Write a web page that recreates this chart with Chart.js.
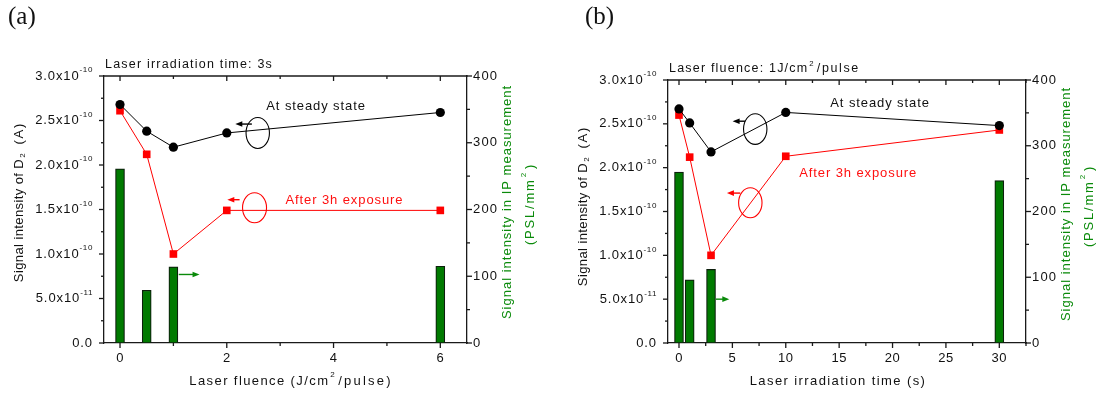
<!DOCTYPE html>
<html><head><meta charset="utf-8">
<script src="https://cdn.jsdelivr.net/npm/chart.js@4.4.1/dist/chart.umd.min.js"></script>
<style>
html,body{margin:0;padding:0;background:#fff;}
#wrap{position:relative;width:1104px;height:395px;overflow:hidden;background:#fff;}
canvas{position:absolute;top:0;}
</style></head><body>
<div id="wrap">
<canvas id="ca" width="552" height="395" style="left:0"></canvas>
<canvas id="cb" width="552" height="395" style="left:552px"></canvas>
</div>
<script>
// ---------------- data ----------------
// Panel (a): vs laser fluence (J/cm2/pulse), irradiation time 3 s
const fluence = [0, 0.5, 1, 2, 6];
const fluenceSteady = [2.68e-10, 2.38e-10, 2.20e-10, 2.36e-10, 2.59e-10];
const fluenceExposed = [2.61e-10, 2.12e-10, 1.00e-10, 1.49e-10, 1.49e-10];
const fluenceIPx = [0, 0.5, 1, 6];
const fluenceIP = [261, 79, 114, 115];
const fluenceTicks = [0, 2, 4, 6];

// Panel (b): vs laser irradiation time (s), fluence 1 J/cm2/pulse
const irrTime = [0, 1, 3, 10, 30];
const timeSteady = [2.67e-10, 2.51e-10, 2.18e-10, 2.63e-10, 2.48e-10];
const timeExposed = [2.60e-10, 2.12e-10, 1.00e-10, 2.13e-10, 2.43e-10];
const timeIPx = [0, 1, 3, 30];
const timeIP = [260, 96, 112, 247];
const timeTicks = [0, 5, 10, 15, 20, 25, 30];

// shared axes
const currentTicks = [0, 5e-11, 1e-10, 1.5e-10, 2e-10, 2.5e-10, 3e-10];
const pslTicks = [0, 100, 200, 300, 400];

// ---------------- helpers ----------------
const FONT = '"Liberation Sans", Arial, Helvetica, sans-serif';
const zip = (xs, ys) => xs.map((x, i) => ({x, y: ys[i]}));
const isMult = (v, s) => Math.abs(v / s - Math.round(v / s)) < 1e-6;

function drawRich(ctx, segs, x, y, o) {
  const size = o.size || 13, ls = (o.ls == null ? 1 : o.ls), color = o.color || '#111';
  ctx.save();
  ctx.translate(x, y);
  if (o.rot) ctx.rotate(o.rot);
  ctx.fillStyle = color; ctx.textBaseline = 'middle'; ctx.textAlign = 'left';
  const fam = o.family || FONT;
  const parts = segs.map(s => {
    const sz = (s.sup || s.sub) ? size * 0.62 : size;
    ctx.font = sz + 'px ' + fam;
    ctx.letterSpacing = (s.ls == null ? ls : s.ls) + 'px';
    const w = ctx.measureText(s.t).width + (s.gap || 0) + (s.pre || 0);
    return {s, sz, w};
  });
  const total = parts.reduce((a, p) => a + p.w, 0);
  let cx = o.align === 'center' ? -total / 2 : (o.align === 'right' ? -total : 0);
  for (const p of parts) {
    ctx.font = p.sz + 'px ' + fam;
    ctx.letterSpacing = (p.s.ls == null ? ls : p.s.ls) + 'px';
    const dy = p.s.sup ? -size * 0.45 : (p.s.sub ? size * 0.32 : 0);
    ctx.fillText(p.s.t, cx + (p.s.pre || 0), dy);
    cx += p.w;
  }
  ctx.restore();
}

function sciLabel(v) {
  if (v === 0) return [{t: '0.0'}];
  const e = Math.floor(Math.log10(v) + 1e-9);
  const m = (v / Math.pow(10, e)).toFixed(1);
  return [{t: m + 'x10'}, {t: '-' + Math.abs(e), sup: true, ls: 0.6}];
}

function line(ctx, x1, y1, x2, y2) { ctx.beginPath(); ctx.moveTo(x1, y1); ctx.lineTo(x2, y2); ctx.stroke(); }

function arrow(ctx, x1, x2, y, color) {
  ctx.save();
  ctx.strokeStyle = color; ctx.fillStyle = color; ctx.lineWidth = 1.4;
  const dir = Math.sign(x2 - x1);
  line(ctx, x1, y, x2 - dir * 5, y);
  ctx.beginPath();
  ctx.moveTo(x2, y); ctx.lineTo(x2 - dir * 7, y - 2.8); ctx.lineTo(x2 - dir * 7, y + 2.8); ctx.closePath(); ctx.fill();
  ctx.restore();
}

const decoPlugin = {
  id: 'deco',
  afterDraw(chart) {
    const c = chart.options.plugins.deco;
    const ctx = chart.ctx, a = chart.chartArea;
    const X = chart.scales.x, Y = chart.scales.y, Y1 = chart.scales.y1;
    ctx.save();
    ctx.strokeStyle = '#1a1a1a'; ctx.lineWidth = 1.3;
    // top frame line
    line(ctx, a.left - 0.6, a.top, a.right + 0.6, a.top);
    // x ticks bottom (outward) and top (inward)
    for (const t of X.ticks) {
      if (!isMult(t.value, c.xMinor)) continue;
      const px = X.getPixelForValue(t.value);
      const major = isMult(t.value, c.xMajor);
      line(ctx, px, a.bottom, px, a.bottom + (major ? 5 : 3));
      line(ctx, px, a.top, px, a.top + (major ? 5 : 3));
    }
    for (const t of Y.ticks) {
      if (!isMult(t.value, 2.5e-11)) continue;
      const py = Y.getPixelForValue(t.value);
      line(ctx, a.left, py, a.left - (isMult(t.value, 5e-11) ? 5 : 3), py);
    }
    for (const t of Y1.ticks) {
      if (!isMult(t.value, 50)) continue;
      const py = Y1.getPixelForValue(t.value);
      line(ctx, a.right, py, a.right + (isMult(t.value, 100) ? 5 : 3), py);
    }
    ctx.restore();

    // tick labels
    for (const v of c.xLabels) {
      drawRich(ctx, [{t: String(v)}], X.getPixelForValue(v), a.bottom + 15, {align: 'center', size: 13, ls: 0.5});
    }
    for (const v of currentTicks) {
      drawRich(ctx, sciLabel(v), a.left - 11, Y.getPixelForValue(v), {align: 'right', size: 13, ls: 0.9});
    }
    for (const v of pslTicks) {
      drawRich(ctx, [{t: String(v)}], a.right + 6, Y1.getPixelForValue(v), {align: 'left', size: 13, ls: 1.2});
    }

    // titles
    drawRich(ctx, c.topTitle, a.left + 1, a.top - 11, {align: 'left', size: 12.5, ls: 1.2});
    drawRich(ctx, c.xTitle, c.xTitlePos[0], c.xTitlePos[1], {align: 'center', size: 13, ls: 1.4});
    drawRich(ctx, [{t: 'Signal intensity of D'}, {t: '2', sub: true, pre: 1, gap: 3}, {t: ' (A)', ls: 1.8}],
      c.yTitlePos[0], c.yTitlePos[1], {align: 'center', size: 13, ls: 0.4, rot: -Math.PI / 2});
    drawRich(ctx, [{t: 'Signal intensity in IP measurement'}], c.y1TitlePos[0], c.y1TitlePos[1],
      {align: 'center', size: 13, ls: 1.0, rot: -Math.PI / 2, color: '#0a8a0a'});
    drawRich(ctx, [{t: '(PSL/mm'}, {t: '2', sup: true, pre: 1, gap: 2}, {t: ')'}], c.y1TitlePos[0] + 23, c.y1TitlePos[1] + 2,
      {align: 'center', size: 13, ls: 1.8, rot: -Math.PI / 2, color: '#0a8a0a'});
    drawRich(ctx, [{t: c.panel}], c.panelPos[0], c.panelPos[1],
      {align: 'left', size: 25, ls: 0, family: '"Liberation Serif", "Times New Roman", serif'});

    // annotations (positioned in data coordinates)
    const n = c.notes;
    ctx.save();
    ctx.lineWidth = 1.1;
    for (const e of n.ellipses) {
      ctx.strokeStyle = e.color;
      ctx.beginPath();
      ctx.ellipse(X.getPixelForValue(e.x), Y.getPixelForValue(e.y), e.rx, e.ry, 0, 0, Math.PI * 2);
      ctx.stroke();
    }
    ctx.restore();
    for (const ar of n.arrows) {
      arrow(ctx, X.getPixelForValue(ar.x1), X.getPixelForValue(ar.x2), Y.getPixelForValue(ar.y), ar.color);
    }
    for (const tx of n.texts) {
      drawRich(ctx, [{t: tx.t}], X.getPixelForValue(tx.x), Y.getPixelForValue(tx.y), {align: 'left', size: 13, ls: 0.9, color: tx.color});
    }
  }
};

function makeChart(id, p) {
  const border = {display: true, color: '#1a1a1a', width: 1.3};
  return new Chart(document.getElementById(id), {
    type: 'bar',
    data: {
      datasets: [
        {type: 'line', label: 'At steady state', data: zip(p.x, p.steady), yAxisID: 'y', order: 0,
         borderColor: '#000', backgroundColor: '#000', borderWidth: 1, tension: 0,
         pointStyle: 'circle', pointRadius: 4.6, pointBorderWidth: 0},
        {type: 'line', label: 'After 3h exposure', data: zip(p.x, p.exposed), yAxisID: 'y', order: 1,
         borderColor: '#ff0000', backgroundColor: '#ff0000', borderWidth: 1, tension: 0,
         pointStyle: 'rect', pointRadius: 5.4, pointBorderWidth: 0},
        {type: 'bar', label: 'IP measurement', data: zip(p.ipx, p.ip), yAxisID: 'y1', order: 2,
         backgroundColor: '#007a00', borderColor: '#0d1f0d', borderWidth: 1.2, borderSkipped: false, barThickness: 9}
      ]
    },
    options: {
      responsive: false, animation: false, devicePixelRatio: 1,
      layout: {padding: {top: p.area.top, left: 0, right: 0, bottom: 0}},
      plugins: {
        legend: {display: false}, tooltip: {enabled: false},
        deco: p.deco
      },
      scales: {
        x: {type: 'linear', min: p.xmin, max: p.xmax, offset: false,
            ticks: {display: false, stepSize: p.deco.xMinor, includeBounds: false},
            grid: {display: false, offset: false}, border,
            afterFit: s => { s.height = 395 - p.area.bottom; }},
        y: {type: 'linear', position: 'left', min: 0, max: 3e-10,
            ticks: {display: false, stepSize: 2.5e-11}, grid: {display: false}, border,
            afterFit: s => { s.width = p.area.left; }},
        y1: {type: 'linear', position: 'right', min: 0, max: 400,
             ticks: {display: false, stepSize: 50}, grid: {display: false}, border,
             afterFit: s => { s.width = 552 - p.area.right; }}
      }
    },
    plugins: [decoPlugin]
  });
}

makeChart('ca', {
  x: fluence, steady: fluenceSteady, exposed: fluenceExposed, ipx: fluenceIPx, ip: fluenceIP,
  xmin: -0.3, xmax: 6.5,
  area: {left: 104, right: 467, top: 76, bottom: 343},
  deco: {
    panel: '(a)', panelPos: [8, 17],
    xMinor: 1, xMajor: 2, xLabels: fluenceTicks,
    topTitle: [{t: 'Laser irradiation time: 3s'}],
    xTitle: [{t: 'Laser fluence (J/cm'}, {t: '2', sup: true, pre: 1, gap: 2}, {t: '/pulse)', ls: 2.2}],
    xTitlePos: [291, 381],
    yTitlePos: [19, 202],
    y1TitlePos: [507, 202],
    notes: {
      texts: [
        {t: 'At steady state', x: 2.74, y: 2.66e-10, color: '#111'},
        {t: 'After 3h exposure', x: 3.10, y: 1.60e-10, color: '#ff1010'}
      ],
      ellipses: [
        {x: 2.58, y: 2.36e-10, rx: 11.7, ry: 15.5, color: '#000'},
        {x: 2.52, y: 1.52e-10, rx: 12, ry: 15, color: '#ff0000'}
      ],
      arrows: [
        {x1: 2.47, x2: 2.16, y: 2.46e-10, color: '#000'},
        {x1: 2.24, x2: 2.01, y: 1.61e-10, color: '#ff0000'},
        {x1: 1.10, x2: 1.49, y: 0.77e-10, color: '#0a8a0a'}
      ]
    }
  }
});

makeChart('cb', {
  x: irrTime, steady: timeSteady, exposed: timeExposed, ipx: timeIPx, ip: timeIP,
  xmin: -1.03, xmax: 32.5,
  area: {left: 116, right: 474, top: 80, bottom: 343},
  deco: {
    panel: '(b)', panelPos: [33, 17],
    xMinor: 2.5, xMajor: 5, xLabels: timeTicks,
    topTitle: [{t: 'Laser fluence: 1J/cm'}, {t: '2', sup: true, pre: 1, gap: 2}, {t: '/pulse', ls: 1.6}],
    xTitle: [{t: 'Laser irradiation time (s)'}],
    xTitlePos: [286, 381],
    yTitlePos: [31, 206],
    y1TitlePos: [514, 204],
    notes: {
      texts: [
        {t: 'At steady state', x: 14.17, y: 2.73e-10, color: '#111'},
        {t: 'After 3h exposure', x: 11.26, y: 1.94e-10, color: '#ff1010'}
      ],
      ellipses: [
        {x: 7.14, y: 2.44e-10, rx: 11.7, ry: 15.3, color: '#000'},
        {x: 6.68, y: 1.60e-10, rx: 11.7, ry: 15, color: '#ff0000'}
      ],
      arrows: [
        {x1: 6.21, x2: 5.02, y: 2.53e-10, color: '#000'},
        {x1: 5.74, x2: 4.49, y: 1.71e-10, color: '#ff0000'},
        {x1: 3.46, x2: 4.71, y: 0.50e-10, color: '#0a8a0a'}
      ]
    }
  }
});
</script>
</body></html>
